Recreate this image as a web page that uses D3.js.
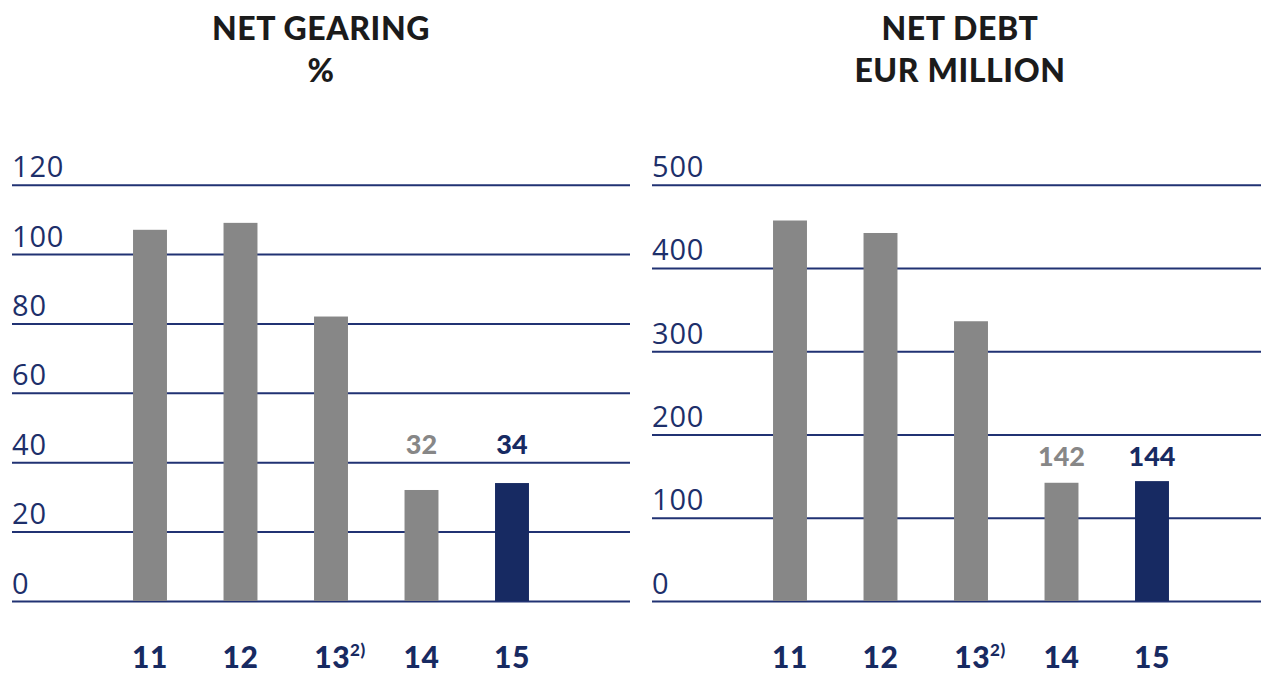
<!DOCTYPE html>
<html><head><meta charset="utf-8">
<script src="https://cdn.jsdelivr.net/npm/d3@7"></script>
<style>
html,body{margin:0;padding:0;background:#fff;}
svg{display:block;}
</style></head>
<body>
<svg id="chart" width="1261" height="675"></svg>
<script>
const categories = ["11", "12", "13", "14", "15"];
const categorySup = ["", "", "2)", "", ""];
const gearingValues = [107, 109, 82, 32, 34];
const debtValues = [457, 442, 336, 142, 144];
const gearingTicks = [0, 20, 40, 60, 80, 100, 120];
const debtTicks = [0, 100, 200, 300, 400, 500];
const gearingTitle = ["NET GEARING", "%"];
const debtTitle = ["NET DEBT", "EUR MILLION"];
const labelledIndex = [3, 4];

const svg = d3.select("#chart");
const navy = "#172a62";
const gray = "#878787";
const y0 = 601, yTop = 184.7;

function panel(cfg) {
  const g = svg.append("g");
  const y = d3.scaleLinear().domain([0, cfg.max]).range([y0, yTop]);
  const x = d3.scaleBand().domain(categories).range(cfg.bandRange).paddingInner(0.625).paddingOuter(0.3125);

  // title
  cfg.title.forEach((t, i) => {
    g.append("text").attr("x", cfg.titleX).attr("y", 40 + i * 42)
      .attr("text-anchor", "middle")
      .attr("font-family", "Lato, 'Open Sans', sans-serif")
      .attr("font-weight", 900).attr("font-size", 32)
      .attr("letter-spacing", 0.6)
      .attr("fill", "#1b1b1b").text(t);
  });

  // axis / gridlines
  const axis = d3.axisRight(y).tickValues(cfg.ticks).tickSize(cfg.gridRight - cfg.gridLeft).tickFormat(d3.format("d"));
  const ag = g.append("g").attr("transform", `translate(${cfg.gridLeft},0)`).call(axis);
  ag.select(".domain").remove();
  ag.selectAll(".tick line").attr("stroke", "#213273").attr("stroke-width", 2);
  ag.selectAll(".tick text").attr("x", 0).attr("dy", -8).attr("text-anchor", "start")
    .attr("font-family", "'Open Sans', sans-serif").attr("font-weight", 400)
    .attr("font-size", 29).attr("fill", "#1d2f6a")
    .attr("letter-spacing", 0.8);

  // bars
  g.selectAll("rect.bar").data(cfg.values).join("rect").attr("class", "bar")
    .attr("x", (d, i) => x(categories[i]))
    .attr("width", x.bandwidth())
    .attr("y", d => y(d))
    .attr("height", d => y0 - y(d))
    .attr("fill", (d, i) => i === categories.length - 1 ? navy : gray);

  // value labels
  labelledIndex.forEach(i => {
    g.append("text").attr("x", x(categories[i]) + x.bandwidth() / 2)
      .attr("y", cfg.labelY)
      .attr("text-anchor", "middle")
      .attr("font-family", "Lato, 'Open Sans', sans-serif")
      .attr("font-weight", 900).attr("font-size", 27)
      .attr("fill", i === categories.length - 1 ? navy : gray)
      .text(cfg.values[i]);
  });

  // category labels
  categories.forEach((c, i) => {
    const t = g.append("text").attr("x", x(c) + x.bandwidth() / 2 + (categorySup[i] ? 9 : 0)).attr("y", 668)
      .attr("text-anchor", "middle")
      .attr("font-family", "Lato, 'Open Sans', sans-serif")
      .attr("font-weight", 900).attr("font-size", 30).attr("fill", navy)
      .attr("letter-spacing", 0.5);
    t.append("tspan").text(c);
    if (categorySup[i]) {
      t.append("tspan").attr("font-size", 17).attr("dy", -12).text(categorySup[i]);
    }
  });
}

panel({ values: gearingValues, ticks: gearingTicks, max: 120, title: gearingTitle, titleX: 321,
  gridLeft: 12, gridRight: 630, bandRange: [104.75, 557.25], labelY: 454 });
panel({ values: debtValues, ticks: debtTicks, max: 500, title: debtTitle, titleX: 960,
  gridLeft: 652, gridRight: 1261, bandRange: [744.75, 1197.25], labelY: 466 });
</script>
</body></html>
